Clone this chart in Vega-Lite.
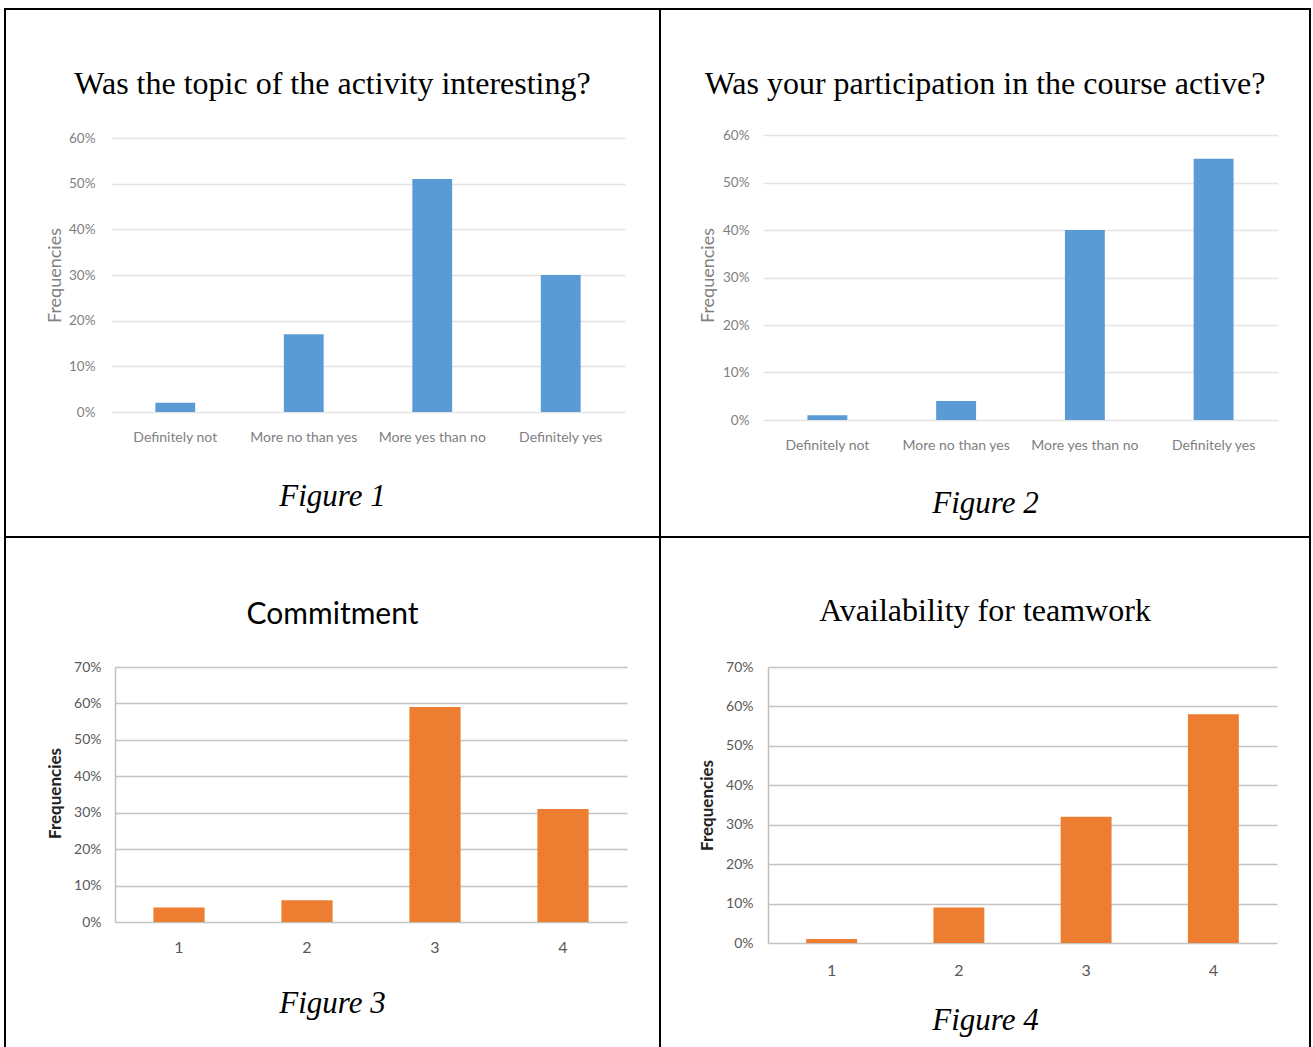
{
  "$schema": "https://vega.github.io/schema/vega-lite/v6.json",
  "padding": {"left": 4, "top": 8, "right": 0, "bottom": 0},
  "background": "white",
  "config": {
    "view": {"stroke": "black", "strokeWidth": 2},
    "axis": {"labelFont": "Lato", "titleFont": "Lato"},
    "title": {"font": "Liberation Serif", "fontWeight": "normal", "color": "black"}
  },
  "datasets": {
    "fig1": [
      {"answer": "Definitely not", "pct": 0.02},
      {"answer": "More no than yes", "pct": 0.17},
      {"answer": "More yes than no", "pct": 0.51},
      {"answer": "Definitely yes", "pct": 0.30}
    ],
    "fig2": [
      {"answer": "Definitely not", "pct": 0.01},
      {"answer": "More no than yes", "pct": 0.04},
      {"answer": "More yes than no", "pct": 0.40},
      {"answer": "Definitely yes", "pct": 0.55}
    ],
    "fig3": [
      {"level": "1", "pct": 0.04},
      {"level": "2", "pct": 0.06},
      {"level": "3", "pct": 0.59},
      {"level": "4", "pct": 0.31}
    ],
    "fig4": [
      {"level": "1", "pct": 0.01},
      {"level": "2", "pct": 0.09},
      {"level": "3", "pct": 0.32},
      {"level": "4", "pct": 0.58}
    ]
  },
  "spacing": 0,
  "bounds": "flush",
  "columns": 2,
  "concat": [
    {
      "width": 655,
      "height": 528,
      "data": {"name": "fig1"},
      "title": {"text": "Was the topic of the activity interesting?", "fontSize": 32, "anchor": "middle", "frame": "group", "baseline": "middle", "offset": -107},
      "mark": {"type": "bar", "color": "#5b9bd5"},
      "encoding": {
        "x": {
          "field": "answer", "type": "nominal", "sort": null,
          "scale": {"range": [106, 620], "paddingInner": 0.69, "paddingOuter": 0.345},
          "axis": {"title": "Figure 1", "offset": -125, "labelAngle": 0, "domain": false, "ticks": false, "tickSize": 0, "grid": false,
            "labelPadding": 18, "labelFontSize": 14, "labelColor": "#808080",
            "titleFont": "Liberation Serif", "titleFontStyle": "italic", "titleFontSize": 31, "titleFontWeight": "normal", "titleColor": "black",
            "titleX": 327, "titleY": 84, "titleBaseline": "middle", "titleAlign": "center"}
        },
        "y": {
          "field": "pct", "type": "quantitative",
          "scale": {"domain": [0, 0.6], "range": [403, 129], "nice": false},
          "axis": {"title": "Frequencies", "format": ".0%", "values": [0, 0.1, 0.2, 0.3, 0.4, 0.5, 0.6], "offset": -90,
            "domain": false, "ticks": false, "tickSize": 0, "labelPadding": 0, "labelFontSize": 13.5, "labelColor": "#808080",
            "grid": true, "gridColor": "#e4e4e4", "gridWidth": 1.5,
            "titleFontSize": 18, "titleFontWeight": "normal", "titleColor": "#808080", "titleX": -40, "titleY": 266, "titleBaseline": "middle", "titleAlign": "center", "titleAngle": 270}
        }
      }
    },
    {
      "width": 650,
      "height": 528,
      "data": {"name": "fig2"},
      "title": {"text": "Was your participation in the course active?", "fontSize": 32, "anchor": "middle", "frame": "group", "baseline": "middle", "offset": -107},
      "mark": {"type": "bar", "color": "#5b9bd5"},
      "encoding": {
        "x": {
          "field": "answer", "type": "nominal", "sort": null,
          "scale": {"range": [103, 618], "paddingInner": 0.69, "paddingOuter": 0.345},
          "axis": {"title": "Figure 2", "offset": -117, "labelAngle": 0, "domain": false, "ticks": false, "tickSize": 0, "grid": false,
            "labelPadding": 18, "labelFontSize": 14, "labelColor": "#808080",
            "titleFont": "Liberation Serif", "titleFontStyle": "italic", "titleFontSize": 31, "titleFontWeight": "normal", "titleColor": "black",
            "titleX": 325, "titleY": 83, "titleBaseline": "middle", "titleAlign": "center"}
        },
        "y": {
          "field": "pct", "type": "quantitative",
          "scale": {"domain": [0, 0.6], "range": [411, 126], "nice": false},
          "axis": {"title": "Frequencies", "format": ".0%", "values": [0, 0.1, 0.2, 0.3, 0.4, 0.5, 0.6], "offset": -89,
            "domain": false, "ticks": false, "tickSize": 0, "labelPadding": 0, "labelFontSize": 13.5, "labelColor": "#808080",
            "grid": true, "gridColor": "#e4e4e4", "gridWidth": 1.5,
            "titleFontSize": 18, "titleFontWeight": "normal", "titleColor": "#808080", "titleX": -41, "titleY": 266, "titleBaseline": "middle", "titleAlign": "center", "titleAngle": 270}
        }
      }
    },
    {
      "width": 655,
      "height": 512,
      "data": {"name": "fig3"},
      "title": {"text": "Commitment", "font": "Lato", "fontSize": 30, "anchor": "middle", "frame": "group", "baseline": "middle", "offset": -108},
      "mark": {"type": "bar", "color": "#ed7d31"},
      "encoding": {
        "x": {
          "field": "level", "type": "nominal", "sort": null,
          "scale": {"range": [110, 622], "paddingInner": 0.6, "paddingOuter": 0.3},
          "axis": {"title": "Figure 3", "offset": -127, "labelAngle": 0, "domain": false, "ticks": false, "tickSize": 0, "grid": false,
            "labelPadding": 17, "labelFontSize": 16, "labelColor": "#595959",
            "titleFont": "Liberation Serif", "titleFontStyle": "italic", "titleFontSize": 31, "titleFontWeight": "normal", "titleColor": "black",
            "titleX": 327, "titleY": 81, "titleBaseline": "middle", "titleAlign": "center"}
        },
        "y": {
          "field": "pct", "type": "quantitative",
          "scale": {"domain": [0, 0.7], "range": [385, 130], "nice": false},
          "axis": {"title": "Frequencies", "format": ".0%", "values": [0, 0.1, 0.2, 0.3, 0.4, 0.5, 0.6, 0.7], "offset": -110,
            "domain": true, "domainColor": "#c0c0c0", "domainWidth": 1.5, "ticks": false, "tickSize": 0, "labelPadding": 14, "labelFontSize": 14, "labelColor": "#595959",
            "grid": true, "gridColor": "#c4c4c4", "gridWidth": 1.5,
            "titleFontSize": 17, "titleFontWeight": "bold", "titleColor": "#222222", "titleX": -60, "titleY": 256, "titleBaseline": "middle", "titleAlign": "center", "titleAngle": 270}
        }
      }
    },
    {
      "width": 650,
      "height": 512,
      "data": {"name": "fig4"},
      "title": {"text": "Availability for teamwork", "fontSize": 32, "anchor": "middle", "frame": "group", "baseline": "middle", "offset": -106},
      "mark": {"type": "bar", "color": "#ed7d31"},
      "encoding": {
        "x": {
          "field": "level", "type": "nominal", "sort": null,
          "scale": {"range": [108, 617], "paddingInner": 0.6, "paddingOuter": 0.3},
          "axis": {"title": "Figure 4", "offset": -106, "labelAngle": 0, "domain": false, "ticks": false, "tickSize": 0, "grid": false,
            "labelPadding": 19, "labelFontSize": 16, "labelColor": "#595959",
            "titleFont": "Liberation Serif", "titleFontStyle": "italic", "titleFontSize": 31, "titleFontWeight": "normal", "titleColor": "black",
            "titleX": 325, "titleY": 77, "titleBaseline": "middle", "titleAlign": "center"}
        },
        "y": {
          "field": "pct", "type": "quantitative",
          "scale": {"domain": [0, 0.7], "range": [406, 130], "nice": false},
          "axis": {"title": "Frequencies", "format": ".0%", "values": [0, 0.1, 0.2, 0.3, 0.4, 0.5, 0.6, 0.7], "offset": -108,
            "domain": true, "domainColor": "#c0c0c0", "domainWidth": 1.5, "ticks": false, "tickSize": 0, "labelPadding": 15, "labelFontSize": 14, "labelColor": "#595959",
            "grid": true, "gridColor": "#c4c4c4", "gridWidth": 1.5,
            "titleFontSize": 17, "titleFontWeight": "bold", "titleColor": "#222222", "titleX": -61, "titleY": 268, "titleBaseline": "middle", "titleAlign": "center", "titleAngle": 270}
        }
      }
    }
  ]
}
